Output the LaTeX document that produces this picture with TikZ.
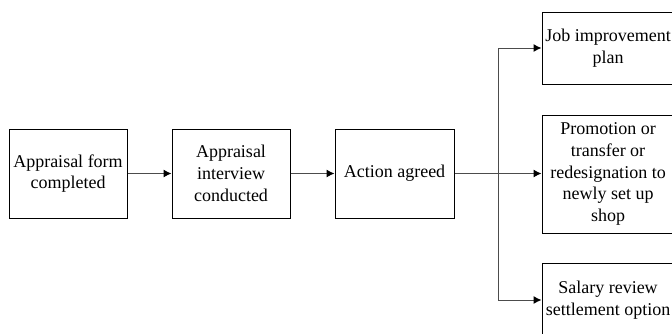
\documentclass[tikz,border=0pt]{standalone}
\usepackage{fontspec}
\setmainfont{Liberation Serif}
\usetikzlibrary{arrows.meta}
\begin{document}
\begin{tikzpicture}[x=1pt,y=-1pt,
  box/.style={draw=black,line width=1pt,inner sep=0pt,align=center,
    font=\fontsize{18}{21.7}\selectfont},
  conn/.style={draw=black!70,line width=1pt,-{Latex[length=8pt,width=8pt,black]}}]
\clip (0,0) rectangle (672,333);
\useasboundingbox (0,0) rectangle (672,333);
\node[box,minimum width=118pt,minimum height=89pt] (b1) at (68,173.5) {Appraisal form\\completed};
\node[box,minimum width=118pt,minimum height=89pt] (b2) at (231,173.5) {Appraisal\\interview\\conducted};
\node[box,minimum width=119pt,minimum height=89pt] (b3) at (394.5,173.5) {Action agreed};
\node[box,minimum width=132pt,minimum height=72pt] (r1) at (608,48) {Job improvement\\plan};
\node[box,minimum width=132pt,minimum height=118pt] (r2) at (608,174) {Promotion or\\transfer or\\redesignation to\\newly set up\\shop};
\node[box,minimum width=132pt,minimum height=74pt] (r3) at (608,300) {Salary review\\settlement option};
\coordinate (j) at (498,173.5);
\draw[conn] (b1) -- (b2);
\draw[conn] (b2) -- (b3);
\draw[conn] (b3.east) -- (r2.west |- b3.east);
\draw[conn] (j) |- (r1.west);
\draw[conn] (j) |- (r3.west);
\end{tikzpicture}
\end{document}
